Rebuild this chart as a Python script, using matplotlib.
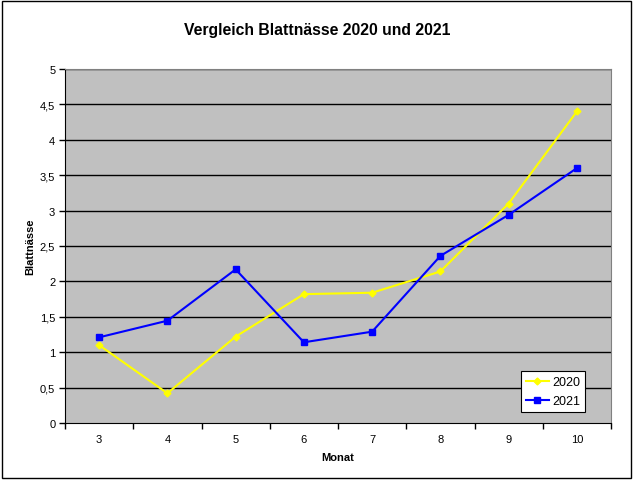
import matplotlib.pyplot as plt
from matplotlib.patches import Rectangle

plt.rcParams['font.family'] = ['Liberation Sans', 'DejaVu Sans']

# Daten
monate = [3, 4, 5, 6, 7, 8, 9, 10]
werte_2020 = [1.1, 0.42, 1.22, 1.82, 1.84, 2.14, 3.1, 4.4]
werte_2021 = [1.21, 1.445, 2.17, 1.14, 1.29, 2.36, 2.94, 3.6]
y_ticks = [0, 0.5, 1, 1.5, 2, 2.5, 3, 3.5, 4, 4.5, 5]
y_labels = ['0', '0,5', '1', '1,5', '2', '2,5', '3', '3,5', '4', '4,5', '5']

fig = plt.figure(figsize=(6.34, 4.81), dpi=100)
fig.patches.append(Rectangle((0.003, 0.004), 0.993, 0.992, transform=fig.transFigure,
                             fill=False, edgecolor='black', linewidth=1))

ax = fig.add_axes([65 / 634, 57 / 481, 546 / 634, 354 / 481])
ax.set_facecolor('#C0C0C0')

for y in y_ticks[1:]:
    ax.axhline(y, color='black', linewidth=1, zorder=1)

ax.plot(monate, werte_2020, color='#FFFF00', marker='D', markersize=3.5,
        linewidth=1.5, label='2020', zorder=3)
ax.plot(monate, werte_2021, color='#0000FF', marker='s', markersize=4,
        linewidth=1.5, label='2021', zorder=4)

ax.set_xlim(2.5, 10.5)
ax.set_ylim(0, 5)
ax.set_yticks(y_ticks)
ax.set_yticklabels(y_labels, fontsize=8)
ax.set_xticks([m + 0.5 for m in [2] + monate])
ax.set_xticklabels([])
ax.set_xticks(monate, minor=True)
ax.set_xticklabels([str(m) for m in monate], minor=True, fontsize=8)
ax.tick_params(axis='x', which='major', length=4, direction='out', width=1)
ax.tick_params(axis='x', which='minor', length=0, pad=8)
ax.tick_params(axis='y', length=4, direction='out', width=1, pad=3)

ax.spines['left'].set_color('black')
ax.spines['bottom'].set_color('black')
ax.spines['top'].set_color('#808080')
ax.spines['right'].set_color('#808080')

ax.set_xlabel('Monat', fontsize=8, fontweight='bold', labelpad=6)
ax.set_ylabel('Blattnässe', fontsize=8, fontweight='bold', labelpad=3)
fig.text(0.5, 0.937, 'Vergleich Blattnässe 2020 und 2021', ha='center', va='center',
         fontsize=11.3, fontweight='bold')

leg = ax.legend(loc='lower right', bbox_to_anchor=(0.953, 0.03), fontsize=9,
                fancybox=False, framealpha=1, edgecolor='black',
                handlelength=1.8, borderpad=0.4, labelspacing=0.6, handletextpad=0.3,
                borderaxespad=0)
leg.get_frame().set_linewidth(0.8)

fig.savefig('out.png', dpi=100)
